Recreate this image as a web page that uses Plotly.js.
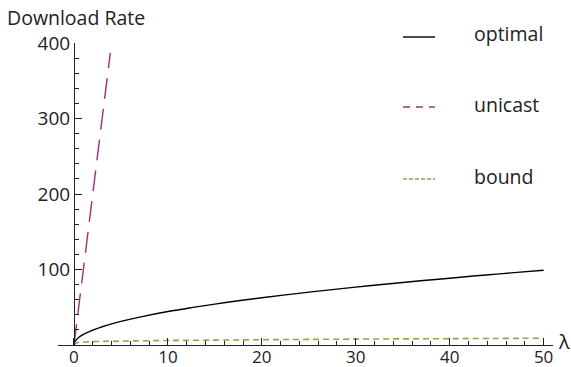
<!DOCTYPE html>
<html>
<head>
<meta charset="utf-8">
<script src="https://cdn.plot.ly/plotly-3.0.1.min.js"></script>
<style>html,body{margin:0;padding:0;background:#fff;}#chart{width:571px;height:367px;}</style>
</head>
<body>
<div id="chart"></div>
<script>
// Data
const optimalX = [0, 0.1, 0.25, 0.5, 1, 2, 3, 4, 5, 7, 10, 12.5, 15, 17.5, 20, 22.5, 25, 27.5, 30, 32.5, 35, 37.5, 40, 42.5, 45, 47.5, 50];
const optimalY = [0, 4.4, 7, 9.9, 14, 19.8, 24.2, 28, 31.3, 37, 44.3, 49.5, 54.2, 58.6, 62.6, 66.4, 70, 73.4, 76.7, 79.8, 82.8, 85.7, 88.5, 91.3, 93.9, 96.5, 99];
const unicastX = [0, 1, 2, 3, 3.87];
const unicastY = [0, 100, 200, 300, 387];
const boundX = [0, 0.3, 1, 3, 5, 10, 15, 20, 30, 40, 50];
const boundY = [0, 3, 4, 4.8, 5.2, 6, 6.5, 7, 7.8, 8.4, 9];
const seriesNames = ['optimal', 'unicast', 'bound'];
const xTicks = [0, 10, 20, 30, 40, 50];
const yTicks = [100, 200, 300, 400];
const yTitle = 'Download Rate';
const xTitle = 'λ';

const FONT = 'Open Sans, Lato, sans-serif';
const colors = ['#000000', '#a0307a', '#a39c45'];

const W = 571, H = 367;
const L = 58, R = 18, T = 43, B = 22;
const pw = W - L - R, ph = H - T - B;
const px = x => (x - L) / pw;
const py = y => (H - B - y) / ph;

const traces = [
  {x: optimalX, y: optimalY, mode: 'lines', name: seriesNames[0], line: {color: colors[0], width: 1.4, shape: 'spline'}},
  {x: unicastX, y: unicastY, mode: 'lines', name: seriesNames[1], line: {color: colors[1], width: 1.4, dash: '21px,10px'}},
  {x: boundX, y: boundY, mode: 'lines', name: seriesNames[2], line: {color: colors[2], width: 1.6, dash: '6px,4px', shape: 'spline'}}
];

const legendY = [37, 107, 179];
const legendDash = ['solid', '7px,6px', '4px,2px'];
const shapes = [], annotations = [];
seriesNames.forEach((n, i) => {
  shapes.push({type: 'line', xref: 'paper', yref: 'paper', x0: px(403), x1: px(435), y0: py(legendY[i]), y1: py(legendY[i]),
    line: {color: colors[i], width: i === 0 ? 1.4 : 1.6, dash: legendDash[i]}});
  annotations.push({xref: 'paper', yref: 'paper', x: px(472), y: py(legendY[i] - 3), xanchor: 'left', yanchor: 'middle',
    text: n, showarrow: false, font: {family: FONT, size: 19.5, color: '#222'}});
});
annotations.push({xref: 'paper', yref: 'paper', x: px(5), y: py(17), xanchor: 'left', yanchor: 'middle',
  text: yTitle, showarrow: false, font: {family: FONT, size: 19.5, color: '#222'}});
annotations.push({xref: 'paper', yref: 'paper', x: px(556), y: py(341), xanchor: 'left', yanchor: 'middle',
  text: xTitle, showarrow: false, font: {family: FONT, size: 20, color: '#222'}});

const layout = {
  width: W, height: H,
  margin: {l: L, r: R, t: T, b: B, pad: 0},
  paper_bgcolor: '#fff', plot_bgcolor: '#fff',
  showlegend: false,
  font: {family: FONT, size: 19, color: '#222'},
  xaxis: {
    range: [-1.7, 51], showgrid: false, zeroline: false,
    showline: true, linecolor: '#222', linewidth: 1.2,
    tickvals: xTicks, ticktext: xTicks.map(String),
    ticks: 'inside', ticklen: 7, tickwidth: 1, tickcolor: '#222',
    minor: {dtick: 2, tick0: 0, ticks: 'inside', ticklen: 4, tickcolor: '#222', tickwidth: 1, showgrid: false},
    tickfont: {family: FONT, size: 17, color: '#222'},
    ticklabelstandoff: -4,
    fixedrange: true
  },
  yaxis: {
    range: [0, 400], showgrid: false, zeroline: false,
    anchor: 'free', position: px(74),
    showline: true, linecolor: '#222', linewidth: 1.2,
    tickvals: yTicks, ticktext: yTicks.map(String),
    ticks: 'inside', ticklen: 7, tickwidth: 1, tickcolor: '#222',
    minor: {dtick: 20, tick0: 0, ticks: 'inside', ticklen: 4, tickcolor: '#222', tickwidth: 1, showgrid: false},
    tickfont: {family: FONT, size: 19, color: '#222'},
    fixedrange: true
  },
  shapes: shapes,
  annotations: annotations
};

Plotly.newPlot('chart', traces, layout, {displayModeBar: false, staticPlot: true});
</script>
</body>
</html>
